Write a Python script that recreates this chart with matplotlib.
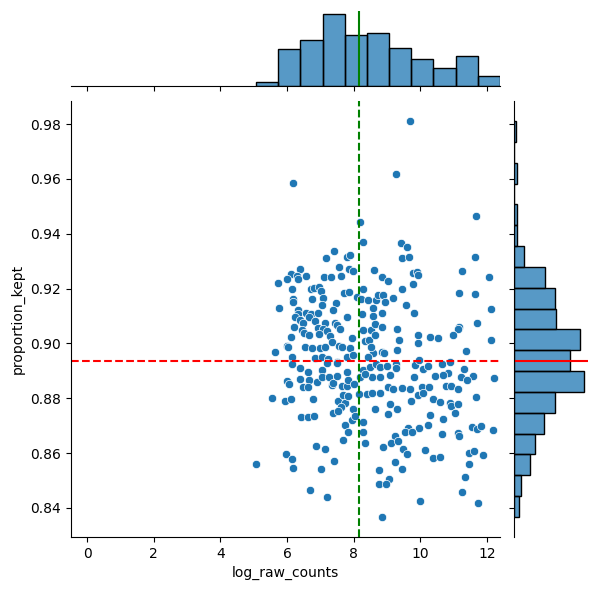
import numpy as np
import matplotlib
matplotlib.use("Agg")
import matplotlib.pyplot as plt

# ----------------------------------------------------------------------
# data
# ----------------------------------------------------------------------
log_raw_counts = [
    6.19, 8.20, 8.29, 7.42, 9.70, 9.28, 11.68, 9.42,
    9.61, 7.18, 7.81, 7.89, 7.57, 7.85, 7.99, 6.40,
    6.13, 6.30, 6.32, 5.99, 5.74, 6.58, 7.11, 7.32,
    7.62, 8.60, 6.16, 6.72, 6.82, 6.96, 7.02, 6.19,
    6.19, 6.76, 7.08, 7.48, 7.72, 7.87, 8.09, 8.22,
    8.29, 8.44, 8.67, 8.72, 7.04, 5.77, 6.34, 6.32,
    6.56, 6.72, 6.66, 6.92, 7.38, 7.81, 8.59, 8.26,
    6.24, 6.39, 6.49, 6.85, 7.14, 7.44, 7.51, 7.60,
    6.20, 6.44, 6.52, 6.67, 6.94, 7.09, 7.19, 6.97,
    7.29, 7.94, 8.27, 8.51, 8.35, 8.47, 6.13, 6.01,
    6.04, 5.64, 6.54, 6.74, 6.99, 7.14, 7.34, 7.56,
    7.64, 7.89, 6.14, 6.14, 6.84, 7.04, 7.24, 7.51,
    7.79, 7.99, 8.59, 8.44, 6.39, 6.64, 7.04, 7.19,
    7.49, 7.79, 8.29, 8.49, 8.67,
    9.44, 9.67, 9.79, 9.91, 9.94, 8.86, 9.02, 11.65,
    11.26, 12.07, 9.79, 9.46, 8.87, 8.95, 9.19, 11.16,
    11.65, 9.58, 9.82, 12.13, 8.59, 8.86, 8.64, 8.86,
    9.31, 11.71, 11.17, 11.14, 8.64, 9.37, 9.94, 9.92,
    10.30, 10.52, 10.97, 12.11, 8.51, 8.86, 8.92, 9.29,
    11.36, 8.79, 9.01, 9.27, 9.27, 9.84, 9.97, 10.07,
    10.24, 10.64, 10.89, 10.82, 10.67, 10.45, 11.32, 9.82,
    11.21, 11.57, 12.21, 8.79, 9.09, 8.54,
    5.99, 6.07, 6.39, 6.67, 6.49, 6.64, 6.89, 7.04,
    7.27, 7.34, 7.37, 7.49, 7.64, 7.79, 7.84, 8.02,
    8.19, 8.34, 5.56, 5.95, 6.11, 6.79, 7.54, 7.74,
    7.69, 7.84, 8.17, 8.39, 8.54, 7.61, 7.39, 7.54,
    7.97, 8.64, 6.41, 6.64, 6.82, 7.94, 8.04, 8.29,
    7.74, 7.84, 8.27, 7.69, 8.35, 6.88, 7.15, 5.98,
    6.16, 6.19, 5.07, 7.42, 7.03, 6.70, 7.21,
    9.04, 9.19, 8.79, 9.46, 9.69, 10.04, 9.94, 10.09,
    10.27, 10.77, 10.91, 11.14, 11.39, 9.72, 10.39, 10.59,
    10.89, 10.91, 11.14, 11.67, 9.09, 9.31, 9.04, 10.29,
    11.04, 10.69, 10.24, 9.97, 9.64, 9.54, 9.74, 10.66,
    11.14, 11.17, 11.54, 11.69, 11.81, 12.19, 9.24, 9.11,
    9.34, 8.89, 9.49, 9.61, 10.14, 10.39, 10.59, 11.46,
    11.61, 11.87, 11.46, 11.34, 9.25, 9.46, 8.77, 9.07,
    8.76, 8.97, 11.26, 9.99, 11.72, 8.86,
]

proportion_kept = [
    0.9584, 0.9442, 0.9369, 0.9338, 0.9812, 0.9617, 0.9464, 0.9365,
    0.9353, 0.9310, 0.9314, 0.9322, 0.9278, 0.9270, 0.9265, 0.9270,
    0.9252, 0.9244, 0.9236, 0.9236, 0.9219, 0.9245, 0.9241, 0.9241,
    0.9246, 0.9268, 0.9200, 0.9197, 0.9202, 0.9207, 0.9191, 0.9163,
    0.9150, 0.9161, 0.9167, 0.9146, 0.9183, 0.9187, 0.9168, 0.9161,
    0.9198, 0.9160, 0.9160, 0.9175, 0.9140, 0.9130, 0.9120, 0.9106,
    0.9112, 0.9107, 0.9097, 0.9112, 0.9120, 0.9095, 0.9130, 0.9107,
    0.9095, 0.9085, 0.9076, 0.9083, 0.9076, 0.9076, 0.9067, 0.9052,
    0.9059, 0.9049, 0.9039, 0.9031, 0.9055, 0.9052, 0.9047, 0.9033,
    0.9027, 0.9019, 0.9049, 0.9049, 0.9010, 0.9013, 0.9022, 0.8991,
    0.8986, 0.8969, 0.8986, 0.8982, 0.8982, 0.8986, 0.9006, 0.8992,
    0.8986, 0.8982, 0.8952, 0.8925, 0.8946, 0.8952, 0.8942, 0.8933,
    0.8952, 0.8958, 0.8966, 0.8950, 0.8909, 0.8897, 0.8903, 0.8927,
    0.8927, 0.8897, 0.8903, 0.8915, 0.8924,
    0.9310, 0.9314, 0.9256, 0.9262, 0.9251, 0.9241, 0.9229, 0.9314,
    0.9263, 0.9241, 0.9217, 0.9197, 0.9175, 0.9150, 0.9165, 0.9183,
    0.9180, 0.9140, 0.9110, 0.9124, 0.9100, 0.9110, 0.9071, 0.9059,
    0.9052, 0.9073, 0.9059, 0.9052, 0.9031, 0.9013, 0.9031, 0.9001,
    0.9022, 0.9019, 0.9030, 0.9013, 0.8986, 0.8970, 0.8964, 0.8976,
    0.8973, 0.8915, 0.8918, 0.8925, 0.8909, 0.8921, 0.8940, 0.8906,
    0.8918, 0.8925, 0.8931, 0.8893, 0.8885, 0.8881, 0.8906, 0.8879,
    0.8877, 0.8881, 0.8873, 0.8879, 0.8885, 0.8879,
    0.8864, 0.8852, 0.8869, 0.8867, 0.8842, 0.8840, 0.8860, 0.8876,
    0.8876, 0.8848, 0.8856, 0.8881, 0.8845, 0.8845, 0.8867, 0.8852,
    0.8879, 0.8889, 0.8800, 0.8791, 0.8796, 0.8796, 0.8791, 0.8784,
    0.8812, 0.8808, 0.8816, 0.8816, 0.8818, 0.8768, 0.8748, 0.8755,
    0.8760, 0.8760, 0.8731, 0.8731, 0.8736, 0.8721, 0.8736, 0.8715,
    0.8703, 0.8676, 0.8676, 0.8646, 0.8636, 0.8625, 0.8614, 0.8597,
    0.8578, 0.8545, 0.8560, 0.8571, 0.8542, 0.8466, 0.8439,
    0.8842, 0.8833, 0.8820, 0.8837, 0.8833, 0.8842, 0.8812, 0.8818,
    0.8842, 0.8845, 0.8845, 0.8833, 0.8867, 0.8791, 0.8796, 0.8788,
    0.8782, 0.8773, 0.8778, 0.8804, 0.8779, 0.8760, 0.8743, 0.8739,
    0.8745, 0.8723, 0.8703, 0.8691, 0.8691, 0.8678, 0.8678, 0.8669,
    0.8675, 0.8663, 0.8694, 0.8687, 0.8699, 0.8684, 0.8663, 0.8636,
    0.8644, 0.8624, 0.8614, 0.8596, 0.8612, 0.8581, 0.8585, 0.8602,
    0.8608, 0.8592, 0.8560, 0.8514, 0.8568, 0.8541, 0.8539, 0.8505,
    0.8487, 0.8487, 0.8458, 0.8426, 0.8417, 0.8367,
]

# marginal histograms (bin start, bin width, counts)
x_bin_start = 5.07
x_bin_width = 0.665
x_counts = [3, 27, 34, 53, 38, 39, 28, 20, 13, 22, 7]

y_bin_start = 0.8367
y_bin_width = 0.0076
y_counts = [3, 4, 10, 13, 19, 26, 45, 36, 42, 27, 26, 20, 6, 2, 2, 0, 2, 0, 1]

mean_x = 8.16
mean_y = 0.8936

# ----------------------------------------------------------------------
# layout
# ----------------------------------------------------------------------
W, H = 598, 590
fig = plt.figure(figsize=(W / 100, H / 100), dpi=100)
ax_joint = fig.add_axes([71 / W, (H - 537) / H, 428.5 / W, 436 / H])
ax_mx = fig.add_axes([71 / W, (H - 85.9) / H, 428.5 / W, 75.2 / H],
                     sharex=ax_joint)
ax_my = fig.add_axes([514.3 / W, (H - 537) / H, 73.7 / W, 436 / H],
                     sharey=ax_joint)

hist_color = "#1f77b4"

# joint scatter
ax_joint.scatter(log_raw_counts, proportion_kept, s=36, color=hist_color,
                 edgecolor="white", linewidth=0.5, zorder=2)
ax_joint.axvline(mean_x, color="g", linestyle="--", linewidth=1.5)
ax_joint.axhline(mean_y, color="r", linestyle="--", linewidth=1.5)
ax_joint.set_xlabel("log_raw_counts")
ax_joint.set_ylabel("proportion_kept")
ax_joint.set_xlim(-0.48, 12.375)
ax_joint.set_ylim(0.8294, 0.9884)
ax_joint.set_xticks(range(0, 13, 2))
ax_joint.spines["top"].set_visible(False)
ax_joint.spines["right"].set_visible(False)

# top marginal
x_left = x_bin_start + x_bin_width * np.arange(len(x_counts))
ax_mx.bar(x_left, x_counts, width=x_bin_width, align="edge",
          color=hist_color, alpha=0.75, edgecolor="none")
ax_mx.bar(x_left, x_counts, width=x_bin_width, align="edge",
          facecolor="none", edgecolor="black", linewidth=1.0)
ax_mx.axvline(mean_x, color="g", linewidth=1.5)
ax_mx.set_ylim(0, max(x_counts) * 1.05)
for s in ["top", "right", "left"]:
    ax_mx.spines[s].set_visible(False)
ax_mx.tick_params(axis="x", labelbottom=False)
ax_mx.tick_params(axis="y", left=False, labelleft=False)

# right marginal
y_bottom = y_bin_start + y_bin_width * np.arange(len(y_counts))
ax_my.barh(y_bottom, y_counts, height=y_bin_width, align="edge",
           color=hist_color, alpha=0.75, edgecolor="none")
ax_my.barh(y_bottom, y_counts, height=y_bin_width, align="edge",
           facecolor="none", edgecolor="black", linewidth=1.0)
ax_my.axhline(mean_y, color="r", linewidth=1.5)
ax_my.set_xlim(0, max(y_counts) * 1.05)
for s in ["top", "right", "bottom"]:
    ax_my.spines[s].set_visible(False)
ax_my.tick_params(axis="y", labelleft=False)
ax_my.tick_params(axis="x", bottom=False, labelbottom=False)

fig.savefig("out.png", dpi=100)
